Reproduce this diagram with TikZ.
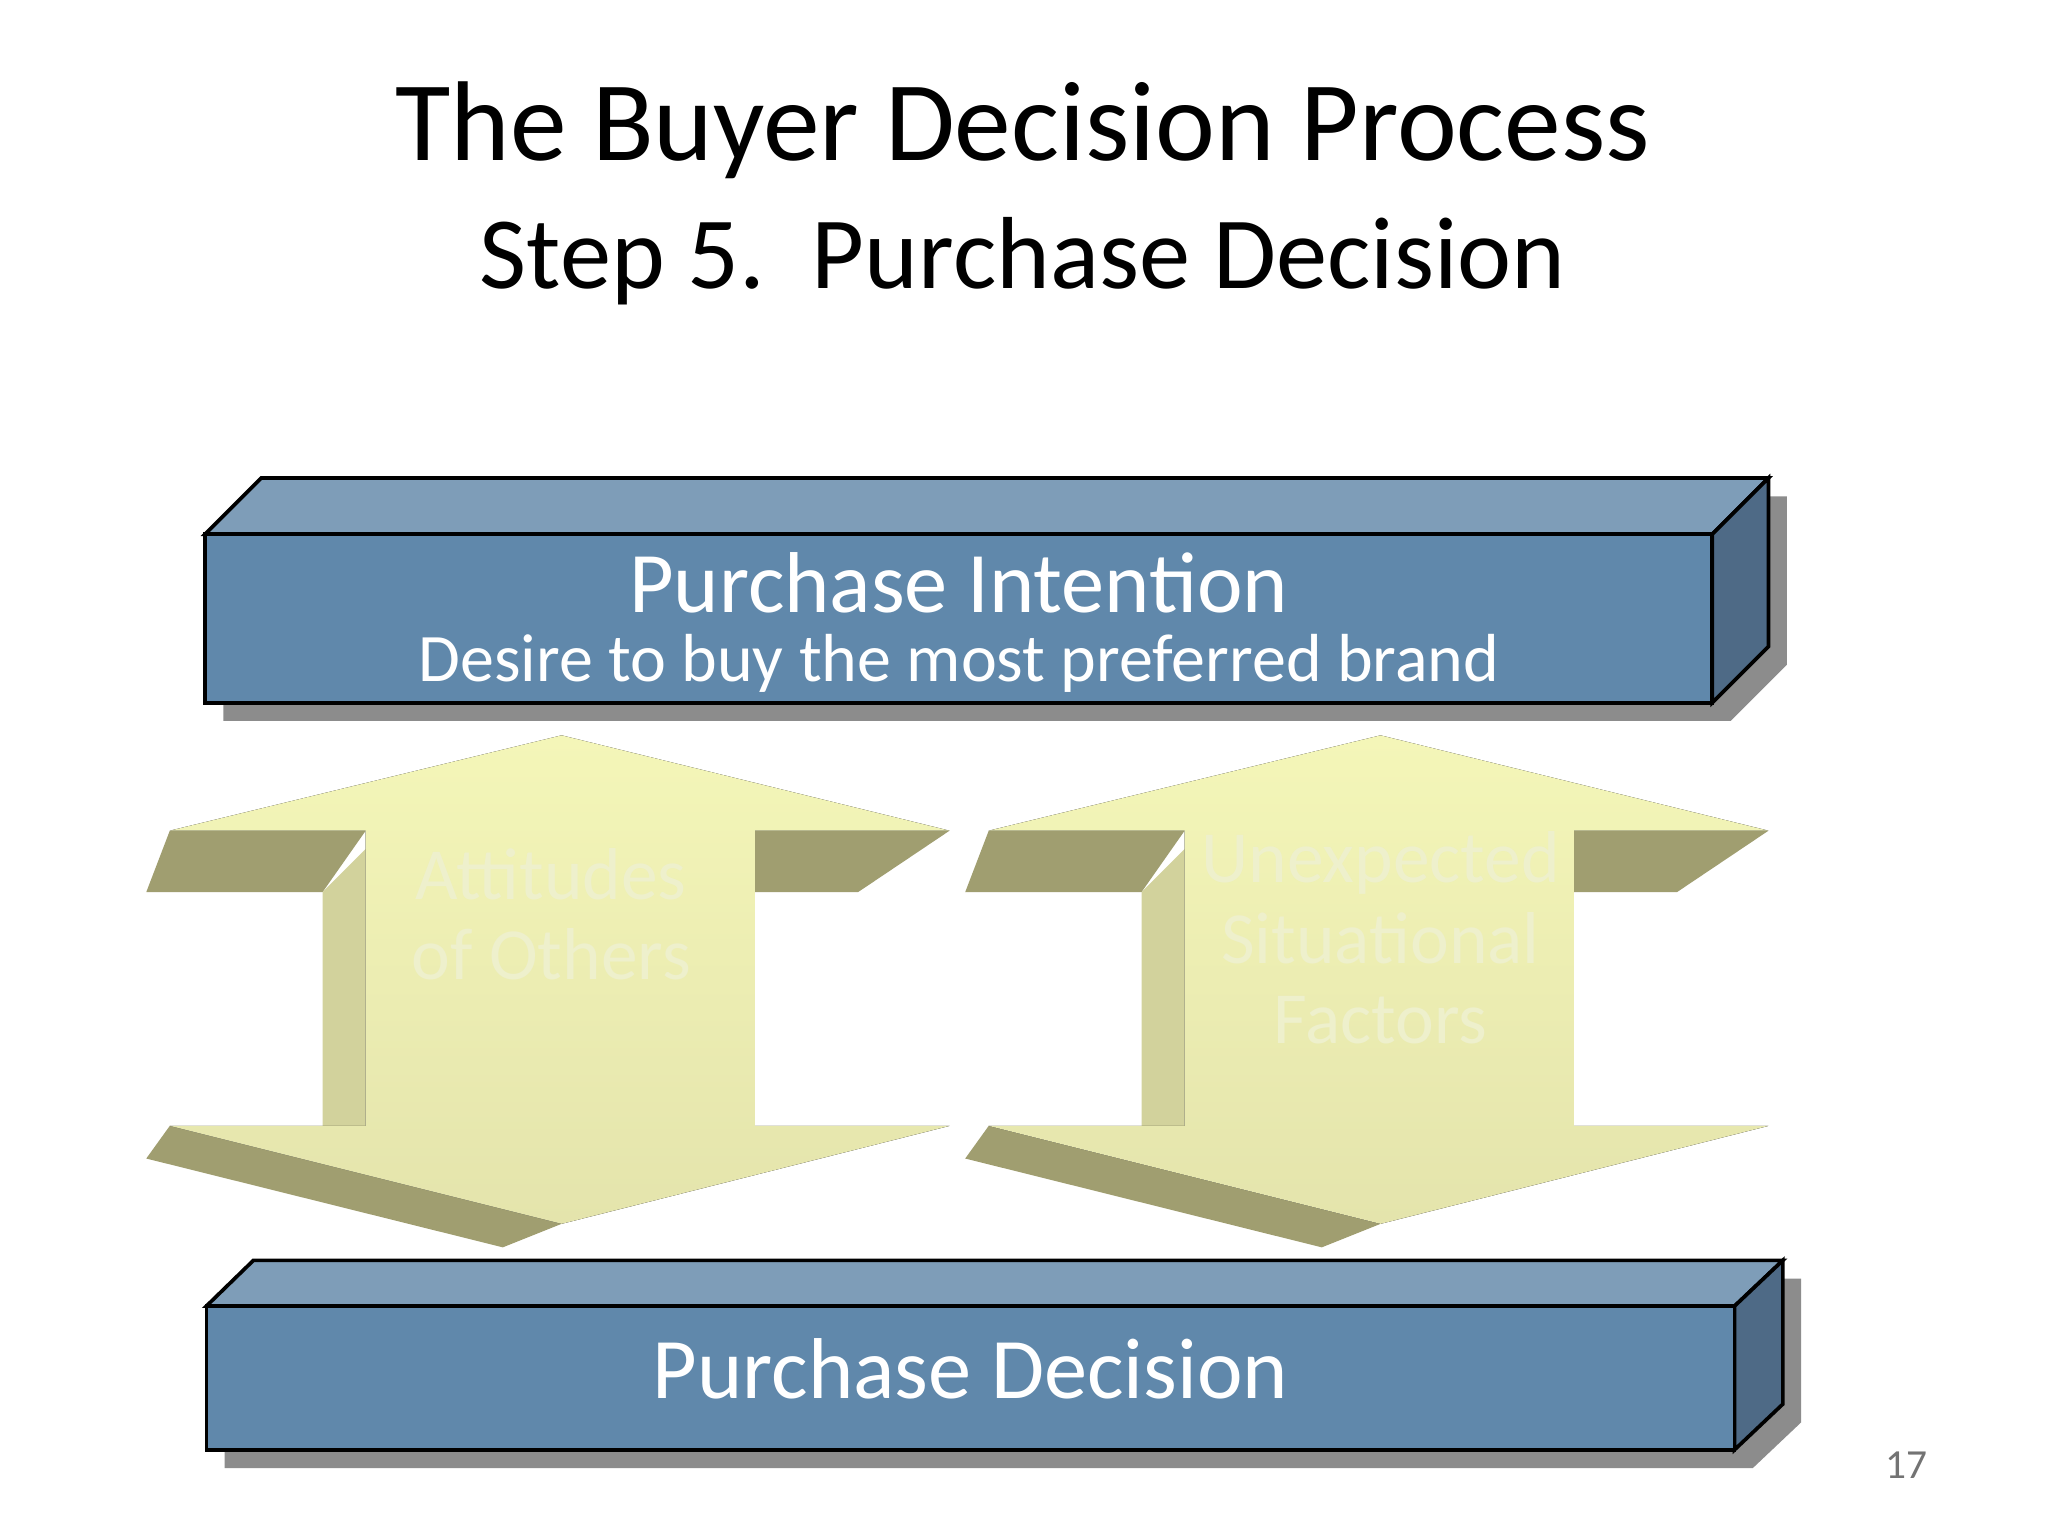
\documentclass[tikz,border=0pt]{standalone}
\usepackage{fontspec}
\setmainfont{Carlito}
\begin{document}
\begin{tikzpicture}[x=0.01cm,y=-0.01cm,
  front/.style={fill=boxfront,draw=black,line width=0.8pt},
  topf/.style={fill=boxtop,draw=black,line width=0.8pt},
  sidef/.style={fill=boxside,draw=black,line width=0.8pt},
  shad/.style={fill=black!45},
  light/.style={top color=arrlightA,bottom color=arrlightB,draw=none},
  dark/.style={fill=arrdark,draw=none},
  boxtext/.style={text=white,align=center},
  arrtext/.style={text=arrtext,align=center,font=\fontsize{16}{17.5}\selectfont}]
\definecolor{boxfront}{HTML}{6088AB}
\definecolor{boxtop}{HTML}{7E9DB8}
\definecolor{boxside}{HTML}{4E6A86}
\definecolor{arrlightA}{HTML}{F4F6B8}
\definecolor{arrlightB}{HTML}{E4E4AC}
\definecolor{arrdark}{HTML}{A09E70}
\definecolor{arrmid}{HTML}{D2D29C}
\definecolor{arrtext}{HTML}{EEF0CC}
\useasboundingbox (0,0) rectangle (1568,1176);
\fill[white] (0,0) rectangle (1568,1176);
% title
\node (title) at (783,100) {\fontsize{24.7}{30}\selectfont The Buyer Decision Process};
\node (sub) at (783,200) {\fontsize{22.3}{26}\selectfont Step 5.\ \ Purchase Decision};
% top box
\fill[shad] (171,423) -- (214,380) -- (1368,380) -- (1368,509) -- (1325,552) -- (171,552) -- cycle;
\draw[topf] (157,409) -- (200,366) -- (1354,366) -- (1311,409) -- cycle;
\draw[sidef] (1311,409) -- (1354,366) -- (1354,495) -- (1311,538) -- cycle;
\draw[front] (157,409) rectangle (1311,538);
\node[boxtext] (pi) at (734,446) {\fontsize{18.8}{22}\selectfont Purchase Intention};
\node[boxtext] (pid) at (734,508) {\fontsize{14.8}{17}\selectfont Desire to buy the most preferred brand};
% arrows
\foreach \s/\n in {0/a,627/b}{
\begin{scope}[xshift=\s*0.01cm]
\fill[dark] (130,636) -- (280,636) -- (247,683) -- (112,683) -- cycle;
\fill[dark] (578,636) -- (727,636) -- (657,683) -- (578,683) -- cycle;
\fill[arrmid] (247,683) -- (280,650) -- (280,862) -- (247,862) -- cycle;
\fill[dark] (130,862) -- (112,887) -- (385,955) -- (430,937) -- cycle;
\fill[light] (430,563) -- (727,636) -- (578,636) -- (578,862) -- (727,862) -- (430,937) -- (130,862) -- (280,862) -- (280,636) -- (130,636) -- cycle;
\end{scope}}
\node[arrtext] (att) at (422,700) {Attitudes\\of Others};
\node[arrtext] (une) at (1057,718) {Unexpected\\Situational\\Factors};
% bottom box
\fill[shad] (172,1014) -- (208,979) -- (1379,979) -- (1379,1089) -- (1342,1124) -- (172,1124) -- cycle;
\draw[topf] (158,1000) -- (194,965) -- (1365,965) -- (1328,1000) -- cycle;
\draw[sidef] (1328,1000) -- (1365,965) -- (1365,1075) -- (1328,1110) -- cycle;
\draw[front] (158,1000) rectangle (1328,1110);
\node[boxtext] (pd) at (743,1048) {\fontsize{18.8}{22}\selectfont Purchase Decision};
\node[text=black!55] (num) at (1460,1122) {\fontsize{9}{11}\selectfont 17};
\end{tikzpicture}
\end{document}
